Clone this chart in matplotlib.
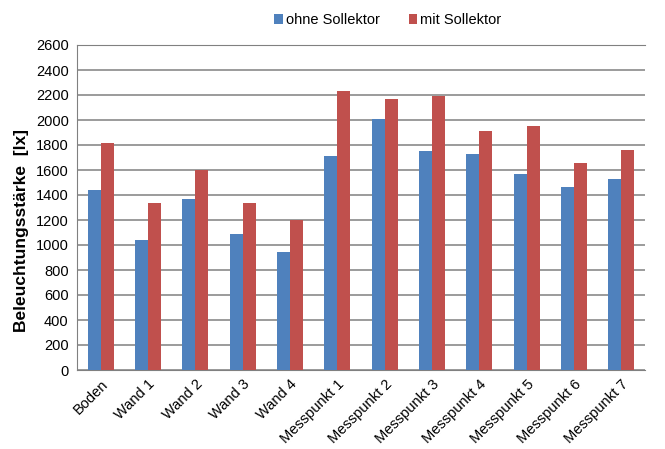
import numpy as np
import matplotlib
matplotlib.use("Agg")
import matplotlib.pyplot as plt

plt.rcParams['font.family'] = ['Liberation Sans', 'DejaVu Sans']

# Messorte und gemessene Beleuchtungsstärken in lx
orte = ['Boden', 'Wand 1', 'Wand 2', 'Wand 3', 'Wand 4',
        'Messpunkt 1', 'Messpunkt 2', 'Messpunkt 3', 'Messpunkt 4',
        'Messpunkt 5', 'Messpunkt 6', 'Messpunkt 7']
ohne_sollektor = [1440, 1040, 1370, 1085, 945, 1710, 2005, 1750, 1730, 1565, 1465, 1530]
mit_sollektor = [1815, 1335, 1600, 1335, 1200, 2230, 2165, 2195, 1910, 1955, 1655, 1760]
y_ticks = list(range(0, 2601, 200))

fig = plt.figure(figsize=(6.65, 4.49), dpi=100)
ax = fig.add_axes([77 / 665, 1 - 370 / 449, 568 / 665, 325 / 449])

x = np.arange(len(orte))
w = 0.275
ax.bar(x - w / 2, ohne_sollektor, w, color='#4F81BD', label='ohne Sollektor', zorder=3)
ax.bar(x + w / 2, mit_sollektor, w, color='#C0504D', label='mit Sollektor', zorder=3)

ax.set_xlim(-0.5, len(orte) - 0.5)
ax.set_ylim(0, 2600)
ax.set_yticks(y_ticks)
ax.tick_params(axis='y', length=0, labelsize=10.5, pad=6)
ax.tick_params(axis='x', length=0, labelsize=10.5, pad=5)
ax.yaxis.grid(True, color='#808080', linewidth=1.1, zorder=0)
ax.set_xticks(x)
ax.set_xticklabels(orte, rotation=45, ha='right', rotation_mode='anchor')

ax.spines['right'].set_visible(False)
for side in ['top', 'left', 'bottom']:
    ax.spines[side].set_color('#808080')

ax.set_ylabel('Beleuchtungsstärke  [lx]', fontsize=12.5, fontweight='bold')
ax.yaxis.set_label_coords(-0.085, 0.43)

fig.legend(loc='upper center', bbox_to_anchor=(0.583, 1.0), ncol=2, frameon=False,
           fontsize=10.5, handlelength=0.6, handleheight=0.6, handletextpad=0.2,
           columnspacing=2.0)

fig.savefig('out.png', dpi=100)
